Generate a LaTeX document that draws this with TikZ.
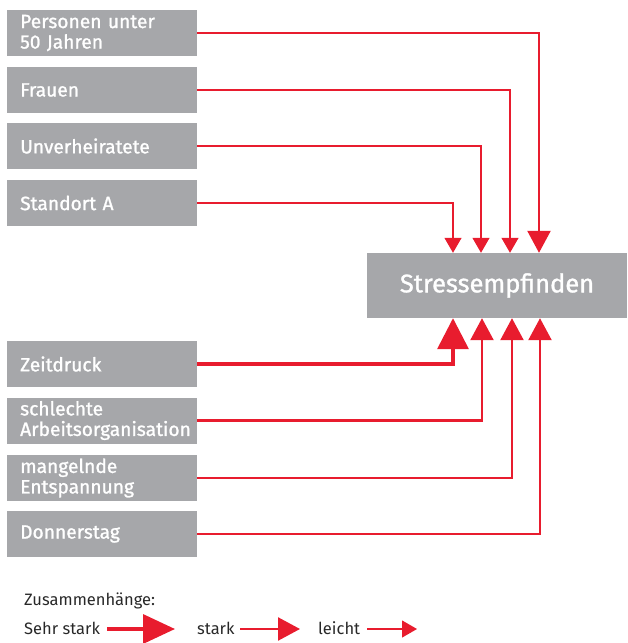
\documentclass[tikz,border=0pt]{standalone}
\usepackage{fontspec}
\setmainfont{Fira Sans}
\newfontfamily\boxfont[FakeBold=1.2]{Fira Sans}
\usetikzlibrary{arrows.meta,calc}
\definecolor{boxgray}{RGB}{166,167,170}
\definecolor{sred}{RGB}{232,28,46}
\definecolor{legtext}{RGB}{40,40,40}
\tikzset{
  factor/.style={fill=boxgray,text=white,anchor=west,minimum height=46pt,text width=164pt,inner xsep=13pt,inner ysep=0pt,align=left,font=\boxfont\fontsize{19.2}{20.5}\selectfont},
  target/.style={fill=boxgray,text=white,minimum width=260pt,minimum height=65pt,inner sep=0pt,font=\boxfont\fontsize{25.5}{28}\selectfont},
  leicht/.style={draw=sred,line width=1.2pt,-{Triangle[length=15pt,width=17pt]}},
  stark/.style={draw=sred,line width=2.4pt,-{Triangle[length=22pt,width=23pt]}},
  sehrstark/.style={draw=sred,line width=3.5pt,-{Triangle[length=31pt,width=31pt]}},
  legend/.style={text=legtext,anchor=base west,inner sep=0pt,font=\fontsize{16.5}{18}\selectfont},
}
\begin{document}
\begin{tikzpicture}[x=1pt,y=-1pt]
\useasboundingbox (0,0) rectangle (628,643);
% target
\node[target] (stress) at (497,285.5) {Stressempfinden};
% factors
\node[factor] (p1) at (7,33) {Personen unter\\50 Jahren};
\node[factor] (p2) at (7,90) {Frauen};
\node[factor] (p3) at (7,146) {Unverheiratete};
\node[factor] (p4) at (7,203) {Standort A};
\node[factor] (q1) at (7,364) {Zeitdruck};
\node[factor] (q2) at (7,420.5) {schlechte\\Arbeitsorganisation};
\node[factor] (q3) at (7,478) {mangelnde\\Entspannung};
\node[factor] (q4) at (7,534) {Donnerstag};
% columns
\coordinate (c1) at (453,0);
\coordinate (c2) at (481,0);
\coordinate (c3) at (510,0);
\coordinate (c4) at (539,0);
% connectors top
\draw[stark] (p1.east) -| (c4 |- stress.north);
\draw[leicht] (p2.east) -| (c3 |- stress.north);
\draw[leicht] (p3.east) -| (c2 |- stress.north);
\draw[leicht] (p4.east) -| (c1 |- stress.north);
% connectors bottom
\draw[sehrstark] (q1.east) -| (c1 |- stress.south);
\draw[stark] (q2.east) -| ($(c2 |- stress.south)+(1,0)$);
\draw[stark] (q3.east) -| ($(c3 |- stress.south)+(2,0)$);
\draw[stark] (q4.east) -| ($(c4 |- stress.south)+(1,0)$);
% legend
\node[legend] (lt) at (24,605) {Zusammenhänge:};
\node[legend] (l1) at (24,634) {Sehr stark};
\node[legend] (l2) at (197,634) {stark};
\node[legend] (l3) at (318,634) {leicht};
\coordinate (a1s) at (107,629);
\coordinate (a1e) at (175,629);
\coordinate (a2s) at (240,629);
\coordinate (a2e) at (300,629);
\coordinate (a3s) at (367,629);
\coordinate (a3e) at (417,629);
\draw[sehrstark,-{Triangle[length=32pt,width=29pt]}] (a1s) -- (a1e);
\draw[stark] (a2s) -- (a2e);
\draw[leicht] (a3s) -- (a3e);
\end{tikzpicture}
\end{document}
